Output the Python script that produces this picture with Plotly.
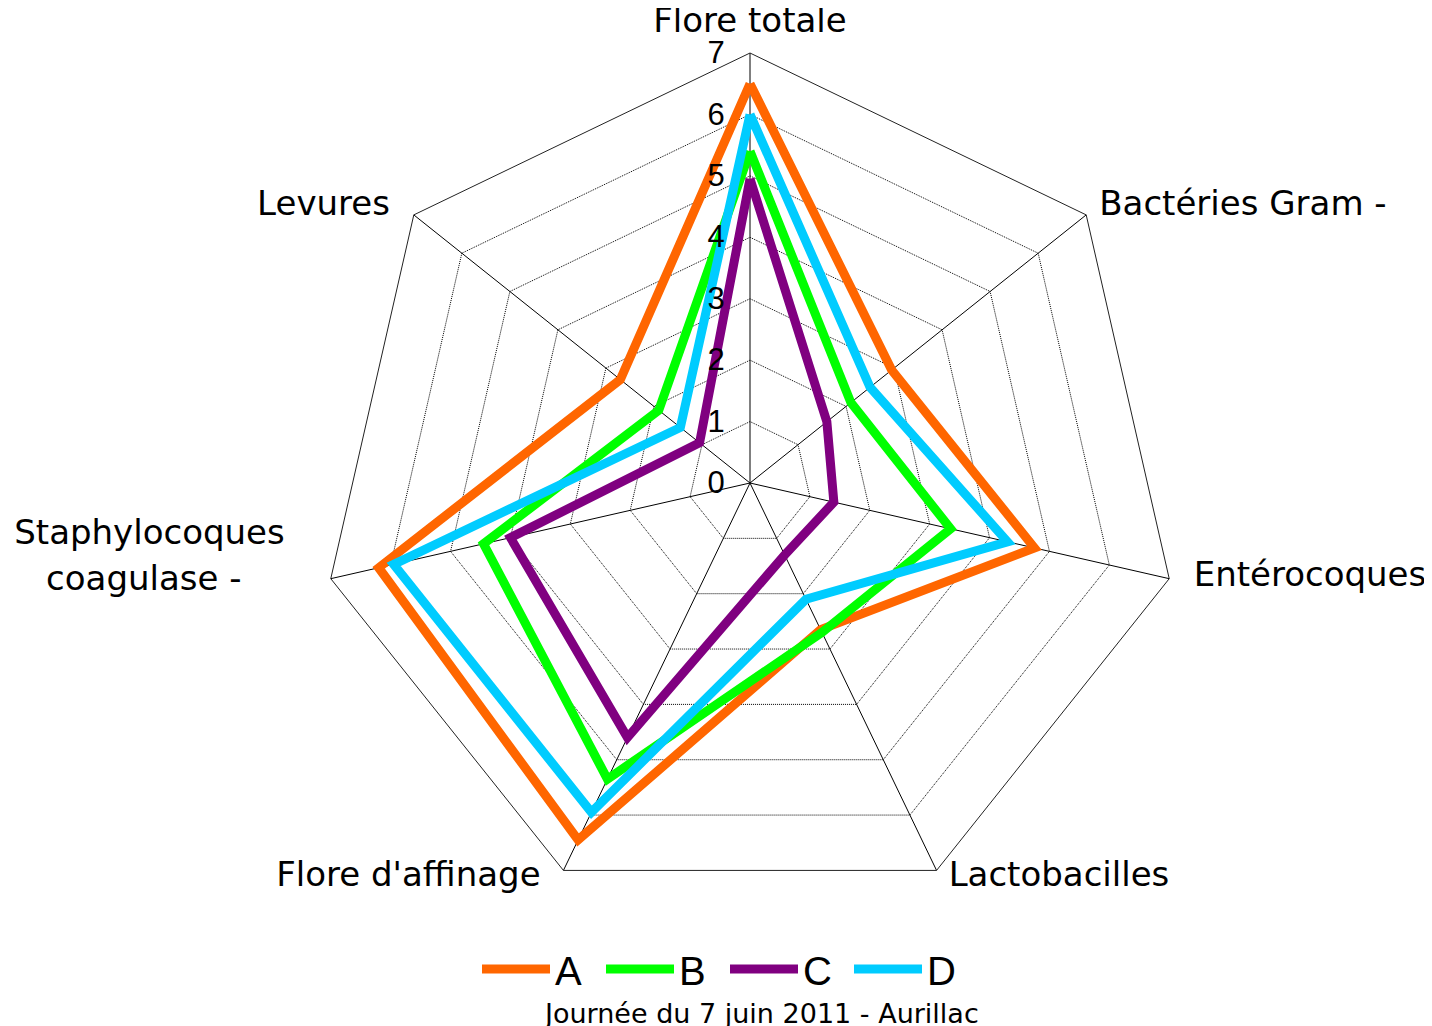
import plotly.graph_objects as go

NB = "\u00a0"
categories = ["Flore totale",
              "Bactéries Gram -",
              "Entérocoques",
              "Lactobacilles",
              "Flore d'affinage",
              "Staphylocoques coagulase -",
              "Levures"]
series_names = ["A", "B", "C", "D"]
values_A = [6.5, 2.95, 4.75, 2.65, 6.45, 6.2, 2.7]
values_B = [5.4, 2.1, 3.35, 2.7, 5.35, 4.45, 1.9]
values_C = [4.95, 1.6, 1.4, 1.3, 4.6, 4.0, 1.05]
values_D = [6.0, 2.5, 4.3, 2.1, 5.95, 5.95, 1.45]
colors = ["#FF6600", "#00FF00", "#800080", "#00CCFF"]
radial_ticks = [0, 1, 2, 3, 4, 5, 6, 7]
subtitle = "Journée du 7 juin 2011 - Aurillac"


def big(s):
    return '<span style="font-size:34px">' + s + "</span>"


# category tick texts at the reference's size (lines spaced for the small base font)
tick_texts = [
    big("Flore totale") + "<br> ",
    big(NB + "Bactéries Gram -"),
    big(NB * 2 + "Entérocoques"),
    big(NB + "Lactobacilles"),
    big("Flore d'affinage" + NB * 2),
    big("Staphylocoques" + NB * 4) + "<br> <br> <br>" + big("coagulase -" + NB * 8) + "<br> <br> <br> <br> ",
    big("Levures" + NB * 2),
]

fig = go.Figure()
for name, vals, col in zip(series_names, [values_A, values_B, values_C, values_D], colors):
    fig.add_trace(go.Scatterpolar(
        r=vals + vals[:1],
        theta=categories + categories[:1],
        mode="lines",
        name=name,
        line=dict(color=col, width=9),
    ))

W, H = 1432, 1026
cx, cy, R = 742, 475, 430
fig.update_layout(
    width=W, height=H,
    margin=dict(l=0, r=0, t=0, b=0),
    paper_bgcolor="white",
    plot_bgcolor="white",
    polar=dict(
        domain=dict(x=[(cx - R) / W, (cx + R) / W], y=[1 - (cy + R) / H, 1 - (cy - R) / H]),
        bgcolor="white",
        gridshape="linear",
        radialaxis=dict(
            range=[0, 7],
            tickvals=radial_ticks,
            angle=90,
            tickangle=90,
            side="counterclockwise",
            showline=False,
            ticks="outside",
            ticklen=14,
            tickcolor="rgba(0,0,0,0)",
            gridcolor="#000000",
            gridwidth=1,
            griddash="1px,1px",
            tickfont=dict(family="Liberation Sans, Arial", size=31, color="black"),
        ),
        angularaxis=dict(
            direction="clockwise",
            rotation=90,
            gridcolor="black",
            gridwidth=1,
            linecolor="#222222",
            linewidth=1,
            ticks="",
            tickmode="array",
            tickvals=categories,
            ticktext=tick_texts,
            tickfont=dict(family="DejaVu Sans", size=12, color="black"),
        ),
    ),
    legend=dict(
        orientation="h",
        x=469 / W, xanchor="left",
        y=1 - 961 / H, yanchor="middle",
        font=dict(family="Liberation Sans, Arial", size=40, color="black"),
        itemwidth=68,
        entrywidth=41,
        entrywidthmode="pixels",
        bgcolor="rgba(0,0,0,0)",
    ),
    annotations=[dict(
        text=subtitle, x=753 / W, y=1 - 1005 / H, xref="paper", yref="paper",
        xanchor="center", yanchor="middle", showarrow=False,
        font=dict(family="DejaVu Sans", size=27, color="black"),
    )],
)

fig.write_html("out.html")
